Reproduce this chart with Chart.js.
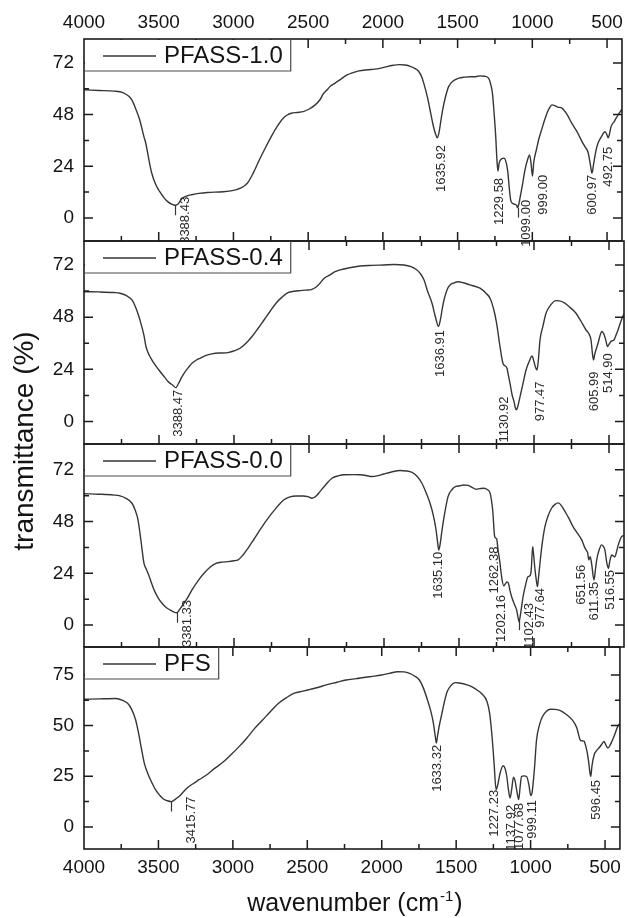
<!DOCTYPE html>
<html><head><meta charset="utf-8">
<script src="https://cdn.jsdelivr.net/npm/chart.js@4.4.0/dist/chart.umd.min.js"></script>
<style>
html,body{margin:0;padding:0;background:#fff;}
#wrap{position:relative;width:628px;height:918px;overflow:hidden;background:#fff;}
#wrap canvas{position:absolute;left:0;top:0;}
</style></head><body>
<div id="wrap">
<canvas id="c0" width="628" height="918"></canvas>
<canvas id="c1" width="628" height="918"></canvas>
<canvas id="c2" width="628" height="918"></canvas>
<canvas id="c3" width="628" height="918"></canvas>
</div>
<script>
// ---------- data ----------
const xTicks = [4000, 3500, 3000, 2500, 2000, 1500, 1000, 500];
const yTicksA = [0, 24, 48, 72];
const yTicksB = [0, 25, 50, 75];
const names = ['PFASS-1.0', 'PFASS-0.4', 'PFASS-0.0', 'PFS'];
const yTitle = 'transmittance (%)';
const xTitleMain = 'wavenumber (cm';
const xTitleSup = '-1';
const xTitleEnd = ')';

// spectra: [wavenumber, transmittance]
const spec1 = [[4000,59.5],[3900,59.2],[3800,58.9],[3740,58.2],[3700,56.5],[3680,54.8],[3650,50],[3627,45.5],[3600,38],[3587,34.8],[3560,25],[3547,20.9],[3520,15.5],[3493,12.2],[3460,9],[3440,7.6],[3410,6.3],[3388,5.9],[3370,6.5],[3345,9],[3333,9.6],[3300,10.5],[3280,10.8],[3230,11.4],[3173,11.8],[3067,12.2],[3000,12.8],[2973,13.3],[2940,14.3],[2907,16.1],[2870,20.5],[2827,26.9],[2787,32.5],[2747,37.8],[2707,42.5],[2667,46.3],[2640,47.8],[2613,48.6],[2573,49],[2533,49.4],[2493,50.6],[2453,52.5],[2420,55],[2400,57.5],[2373,59.5],[2350,61.3],[2320,62.6],[2280,64.5],[2240,66.4],[2200,67.5],[2160,68.3],[2100,68.8],[2053,69.1],[2000,69.8],[1973,70.3],[1930,70.9],[1893,71.2],[1850,71],[1813,70.3],[1787,69.5],[1760,68],[1740,65.5],[1720,61],[1700,55.5],[1680,48.7],[1660,42],[1645,38.5],[1636,37.2],[1625,39.5],[1610,46],[1600,50.2],[1580,56.5],[1560,61],[1530,63.6],[1493,64.9],[1450,65.4],[1413,65.6],[1380,65.6],[1350,66],[1320,65.8],[1293,64.9],[1280,62.5],[1267,58],[1255,48],[1245,38],[1236,26],[1230,21.8],[1222,25.5],[1205,27.5],[1190,27.8],[1178,26.5],[1165,22],[1153,13],[1145,8.4],[1133,6.8],[1120,6.4],[1105,5.8],[1099,4.8],[1090,6.5],[1078,11],[1067,15],[1049,22.3],[1030,27.5],[1018,29.3],[1008,25],[999,19.5],[990,26],[973,31.6],[955,37],[938,40.9],[920,45],[900,49],[880,51.7],[869,52.5],[850,52.2],[830,51.5],[802,51],[770,48.3],[736,44],[700,40],[680,37.2],[660,34.5],[647,33],[627,30.5],[612,25],[601,20.8],[590,25],[573,31.6],[560,34.8],[540,37.5],[513,40],[500,38.5],[493,37.2],[485,38.5],[473,42.4],[450,45],[427,47.8],[400,50.5]];

const spec2 = [[4000,59.7],[3900,59.6],[3800,59.3],[3760,59],[3720,58],[3680,55.9],[3650,51.5],[3627,46.7],[3600,39.5],[3587,34.5],[3565,30.5],[3547,28.3],[3520,25.5],[3493,23],[3460,20.2],[3440,18.4],[3410,16.8],[3388,15.6],[3370,17.5],[3350,20.2],[3333,22.2],[3300,25.2],[3280,26.8],[3250,28.3],[3227,29.1],[3190,30.3],[3147,31.1],[3100,31.5],[3040,31.7],[3000,32.5],[2960,33.7],[2920,36],[2880,39.1],[2840,42.8],[2800,46.7],[2760,50.6],[2720,54.4],[2680,57.2],[2640,59.3],[2600,59.9],[2560,60.2],[2520,60.4],[2480,60.8],[2450,62],[2427,63.6],[2400,65.8],[2360,67.4],[2330,68.8],[2293,69.7],[2230,70.7],[2160,71.5],[2080,71.8],[2000,72],[1930,72.2],[1867,72],[1820,71.2],[1787,70],[1760,68.2],[1733,65.1],[1710,60],[1680,54.4],[1655,47.5],[1637,43.7],[1625,46.5],[1610,52.5],[1600,55.9],[1580,60.5],[1560,62.8],[1530,63.8],[1507,64.3],[1470,63.8],[1427,62.8],[1400,62.3],[1360,61.3],[1320,59],[1293,56.7],[1270,52],[1250,45.5],[1230,36],[1207,26.8],[1190,25.5],[1180,24.5],[1170,21],[1160,17.6],[1145,12],[1133,9.2],[1125,6.5],[1118,5.4],[1110,6.5],[1093,11.5],[1075,17],[1053,23.7],[1030,28],[1013,30.2],[1000,27.5],[990,25],[980,23.7],[970,29],[960,37.5],[940,44],[920,49.8],[890,53.5],[853,55.6],[830,55.5],[800,54.7],[760,52.5],[720,49.8],[690,46.5],[653,42.1],[635,40.5],[620,37.5],[610,31],[603,28.3],[595,31],[573,36],[560,39.5],[547,41.4],[530,39.5],[520,37],[510,34.5],[500,35.5],[485,37],[467,37.5],[455,39.5],[440,42.1],[413,47.5],[400,49.5]];

const spec3 = [[4000,60.9],[3900,60.7],[3800,60.3],[3760,59.9],[3720,58.8],[3680,56.5],[3660,53.5],[3640,48.8],[3620,39],[3600,28.6],[3585,26],[3573,24],[3550,19.5],[3533,16.3],[3505,12.5],[3480,10.1],[3450,8],[3427,7],[3400,6],[3381,5.7],[3360,7.5],[3333,10.1],[3305,13.2],[3280,16.3],[3240,20.5],[3200,24],[3160,26.8],[3120,28.6],[3080,29.2],[3040,29.4],[3000,29.8],[2973,30.2],[2940,32.5],[2907,35.6],[2867,39.8],[2827,44.1],[2787,48.2],[2747,51.9],[2707,55.3],[2667,58.1],[2627,59.5],[2587,59.9],[2540,59.9],[2507,59.6],[2480,58.8],[2450,60],[2427,61.9],[2390,65],[2347,68.1],[2300,69.3],[2267,69.7],[2200,69.8],[2160,69.7],[2120,69.4],[2080,68.9],[2040,69.3],[2000,70.1],[1950,71],[1893,71.7],[1850,71.5],[1813,70.8],[1780,69],[1747,65.8],[1720,61.5],[1693,56.5],[1670,50.5],[1653,44.1],[1642,38],[1635,34.8],[1627,37],[1613,44.1],[1595,52],[1573,59.6],[1545,63],[1520,64.3],[1493,64.6],[1470,65],[1440,64.8],[1410,63.8],[1387,63],[1360,63.3],[1333,63.5],[1310,62.8],[1293,61.3],[1275,53],[1262,41],[1249,40],[1240,35],[1227,28.8],[1215,22],[1202,18.2],[1190,19.2],[1180,20],[1171,19.5],[1160,16],[1149,13.1],[1130,9.5],[1116,7],[1105,3],[1100,1.5],[1092,4],[1073,13.1],[1055,19],[1040,22.4],[1025,23],[1018,26],[1009,36.4],[1003,33],[993,25.5],[985,21],[977,17.8],[970,22],[960,28.8],[945,38],[927,45.7],[905,50.8],[882,54.3],[860,56],[838,56.7],[815,55.2],[793,52.6],[770,49.8],[740,45.7],[710,42.5],[682,39.5],[665,36.5],[650,34.5],[642,33.5],[635,30.2],[625,31.7],[615,28],[600,20.9],[590,26],[582,30.2],[565,35],[549,37.2],[538,36.5],[527,34.8],[515,29],[504,26.3],[495,29.5],[482,32.5],[470,32],[460,31.7],[448,34.5],[438,37.2],[416,41],[400,41.5]];

const spec4 = [[4000,63],[3900,63.2],[3787,63.4],[3740,62.5],[3707,61],[3680,58],[3653,52.8],[3630,45],[3613,38.1],[3595,31.5],[3573,26.6],[3545,22],[3520,18.4],[3490,15.5],[3467,13.8],[3440,12.9],[3415,12.5],[3395,13.2],[3375,14.3],[3360,15.1],[3330,17.5],[3307,19.2],[3270,21.2],[3227,23.3],[3170,26],[3120,29],[3065,32],[3013,35.6],[2960,39.5],[2907,43.8],[2855,48.5],[2800,52.8],[2747,57],[2693,61],[2640,63.8],[2587,66],[2530,67],[2480,67.9],[2430,68.8],[2373,70.1],[2300,71.4],[2240,72.5],[2170,73.2],[2107,73.9],[2050,74.4],[2000,75],[1950,75.8],[1893,76.6],[1850,76.5],[1813,75.8],[1780,74.5],[1747,72.5],[1720,68.5],[1693,62.7],[1670,57],[1653,51.2],[1640,44.5],[1633,41.4],[1625,45],[1612,50.5],[1600,54.5],[1580,61.5],[1560,66.8],[1535,69.8],[1507,71.2],[1480,71],[1427,70.1],[1390,69],[1360,67.6],[1325,65.5],[1293,61.9],[1275,56],[1259,44.6],[1245,31],[1232,18.4],[1220,21],[1205,26.5],[1185,30.2],[1172,29],[1160,25],[1150,19],[1138,14.3],[1128,18],[1115,24.5],[1105,23],[1093,18],[1080,13.5],[1070,20],[1061,24.9],[1045,25.2],[1027,24.9],[1012,21],[999,15.5],[990,17],[975,28],[960,43],[940,50.5],[920,54.5],[895,57],[867,58.1],[835,58],[800,57.4],[760,55.5],[720,52.8],[690,49],[667,43],[655,42.5],[640,42.2],[630,40],[619,36.4],[610,32],[600,26],[596,24.9],[588,30],[573,35.6],[553,38],[533,39.7],[520,41],[507,42.2],[495,40.5],[480,38.9],[465,40.5],[440,44.6],[413,49.9],[400,51]];

// peak annotations: text, label centre (cm-1), label top (%), short marker line
const peaks1 = ['3388.43','1635.92','1229.58','1099.00','999.00','600.97','492.75'];
const peakLX1 = [3320, 1607, 1222, 1038, 927, 598, 489];
const peakLT1 = [9.8, 33.9, 18.6, 8.4, 20, 20, 33];
const peakMark1 = [true, false, false, true, false, false, false];

const peaks2 = ['3388.47','1636.91','1130.92','977.47','605.99','514.90'];
const peakLX2 = [3373, 1627, 1195, 960, 595, 501];
const peakLT2 = [14.6, 42.1, 11.5, 18.4, 23, 31.4];
const peakMark2 = [false, false, false, false, false, false];

const peaks3 = ['3381.33','1635.10','1262.38','1202.16','1102.43','977.64','651.56','611.35','516.55'];
const peakLX3 = [3313, 1640, 1267, 1215, 1033, 960, 682, 600, 493];
const peakLT3 = [11.6, 34, 36.4, 13.9, 10.2, 17.2, 27.9, 20.1, 25.5];
const peakMark3 = [true, false, false, false, true, false, false, false, false];

const peaks4 = ['3415.77','1633.32','1227.23','1137.92','1077.68','999.11','596.45'];
const peakLX4 = [3280, 1627, 1240, 1127, 1073, 987, 560];
const peakLT4 = [15, 40.5, 18.3, 10.9, 11.8, 13.3, 23.2];
const peakMark4 = [true, false, false, false, false, false, false];

const yRange1 = [-10.7, 83.1];
const yRange2 = [-10.3, 83.0];
const yRange3 = [-10.2, 84.0];
const yRange4 = [-10.9, 88.8];

// ---------- assembly ----------
const panels = [
  {name: names[0], spec: spec1, yTicks: yTicksA, yr: yRange1, pt: peaks1, lx: peakLX1, lt: peakLT1, mk: peakMark1},
  {name: names[1], spec: spec2, yTicks: yTicksA, yr: yRange2, pt: peaks2, lx: peakLX2, lt: peakLT2, mk: peakMark2},
  {name: names[2], spec: spec3, yTicks: yTicksA, yr: yRange3, pt: peaks3, lx: peakLX3, lt: peakLT3, mk: peakMark3},
  {name: names[3], spec: spec4, yTicks: yTicksB, yr: yRange4, pt: peaks4, lx: peakLX4, lt: peakLT4, mk: peakMark4}
];

const FONT = '"Liberation Sans", Arial, "DejaVu Sans", sans-serif';
const TXT = '#141414';
const LINE = '#363636';
const FRAME = '#1c1c1c';
const TOPS = [39, 241, 444, 647];
const BOTS = [241, 444, 647, 849];
const H = 918;

function curveAt(spec, v) {
  for (let i = 0; i < spec.length - 1; i++) {
    const a = spec[i], b = spec[i + 1];
    if (v <= a[0] && v >= b[0]) {
      const t = (a[0] - v) / (a[0] - b[0]);
      return a[1] + t * (b[1] - a[1]);
    }
  }
  return spec[spec.length - 1][1];
}

const deco = {
  id: 'deco',
  afterDatasetsDraw(chart, args, opts) {
    const k = opts.k;
    const P = panels[k];
    const ctx = chart.ctx;
    const a = chart.chartArea;
    const xs = chart.scales.x, ys = chart.scales.y;
    ctx.save();

    // peak markers and labels
    ctx.strokeStyle = LINE; ctx.lineWidth = 1.2;
    P.pt.forEach((txt, i) => {
      if (P.mk[i]) {
        const v = parseFloat(txt);
        const px = Math.round(xs.getPixelForValue(v)) + 0.5;
        const py = ys.getPixelForValue(curveAt(P.spec, v));
        ctx.beginPath(); ctx.moveTo(px, py); ctx.lineTo(px, py + 10); ctx.stroke();
      }
    });
    ctx.fillStyle = '#2a2a2a';
    ctx.font = '13px ' + FONT;
    ctx.textAlign = 'right'; ctx.textBaseline = 'middle';
    P.pt.forEach((txt, i) => {
      const px = xs.getPixelForValue(P.lx[i]);
      const py = ys.getPixelForValue(P.lt[i]);
      ctx.save(); ctx.translate(px, py); ctx.rotate(-Math.PI / 2);
      ctx.fillText(txt, 0, 0); ctx.restore();
    });

    // frame
    ctx.strokeStyle = FRAME; ctx.lineWidth = 1.6;
    ctx.strokeRect(a.left, a.top, a.right - a.left, a.bottom - a.top);

    // inward ticks
    ctx.lineWidth = 1.5;
    const MAJ = 9, MIN = 5;
    const xMin = [];
    for (let i = 0; i < xTicks.length - 1; i++) xMin.push((xTicks[i] + xTicks[i + 1]) / 2);
    ctx.beginPath();
    const tickX = (v, len) => {
      const p = xs.getPixelForValue(v);
      if (p < a.left + 1 || p > a.right - 1) return;
      ctx.moveTo(p, a.top); ctx.lineTo(p, a.top + len);
      ctx.moveTo(p, a.bottom); ctx.lineTo(p, a.bottom - len);
    };
    xTicks.forEach(v => tickX(v, MAJ));
    xMin.forEach(v => tickX(v, MIN));
    const step = P.yTicks[1] - P.yTicks[0];
    const yMin = [];
    for (let v = P.yTicks[0] - step / 2; v <= P.yr[1]; v += step) yMin.push(v);
    const tickY = (v, len) => {
      const p = ys.getPixelForValue(v);
      if (p < a.top + 3 || p > a.bottom - 3) return;
      ctx.moveTo(a.left, p); ctx.lineTo(a.left + len, p);
      ctx.moveTo(a.right, p); ctx.lineTo(a.right - len, p);
    };
    P.yTicks.forEach(v => tickY(v, MAJ));
    yMin.forEach(v => tickY(v, MIN));
    ctx.stroke();

    // legend box
    ctx.font = '24px ' + FONT;
    const tw = ctx.measureText(P.name).width;
    const bx = a.left, by = a.top, bh = 32, bw = 80 + tw + 8;
    ctx.fillStyle = '#fff';
    ctx.fillRect(bx + 1, by + 1, bw - 1, bh - 1);
    ctx.strokeStyle = '#4a4a4a'; ctx.lineWidth = 1.2;
    ctx.beginPath();
    ctx.moveTo(bx + bw, by); ctx.lineTo(bx + bw, by + bh); ctx.lineTo(bx, by + bh);
    ctx.stroke();
    ctx.strokeStyle = LINE; ctx.lineWidth = 1.3;
    ctx.beginPath(); ctx.moveTo(bx + 19, by + 17); ctx.lineTo(bx + 72, by + 17); ctx.stroke();
    ctx.fillStyle = TXT; ctx.textAlign = 'left'; ctx.textBaseline = 'middle';
    ctx.fillText(P.name, bx + 80, by + 17);

    // shared y-axis title
    if (k === 0) {
      ctx.font = '28px ' + FONT;
      ctx.fillStyle = TXT; ctx.textAlign = 'center'; ctx.textBaseline = 'middle';
      ctx.save(); ctx.translate(25, 441); ctx.rotate(-Math.PI / 2);
      ctx.fillText(yTitle, 0, 0); ctx.restore();
    }
    // x-axis title with superscript
    if (k === 3) {
      const big = '25px ' + FONT, small = '15px ' + FONT;
      ctx.fillStyle = TXT; ctx.textAlign = 'left'; ctx.textBaseline = 'alphabetic';
      ctx.font = big; const w1 = ctx.measureText(xTitleMain).width, w3 = ctx.measureText(xTitleEnd).width;
      ctx.font = small; const w2 = ctx.measureText(xTitleSup).width;
      const total = w1 + w2 + w3 + 2;
      let x0 = (a.left + a.right) / 2 + 3 - total / 2;
      const base = 911;
      ctx.font = big; ctx.fillText(xTitleMain, x0, base);
      ctx.font = small; ctx.fillText(xTitleSup, x0 + w1 + 1, base - 10);
      ctx.font = big; ctx.fillText(xTitleEnd, x0 + w1 + w2 + 2, base);
    }
    ctx.restore();
  }
};

function makeChart(k) {
  const P = panels[k];
  const isTop = k === 0, isBottom = k === 3;
  return new Chart(document.getElementById('c' + k), {
    type: 'scatter',
    data: {
      datasets: [{
        label: P.name,
        data: P.spec.map(([x, y]) => ({x, y})),
        showLine: true, fill: false,
        borderColor: LINE, borderWidth: 1.4,
        pointRadius: 0, pointHoverRadius: 0,
        cubicInterpolationMode: 'monotone'
      }]
    },
    options: {
      responsive: false, animation: false, devicePixelRatio: 1,
      events: [],
      layout: {padding: {left: 0, right: 4, top: isTop ? 0 : TOPS[k], bottom: isBottom ? 0 : H - BOTS[k]}},
      plugins: {legend: {display: false}, tooltip: {enabled: false}, deco: {k}},
      scales: {
        x: {
          type: 'linear', min: 400, max: 4000, reverse: true,
          position: isBottom ? 'bottom' : 'top',
          display: isTop || isBottom,
          grid: {display: false, drawTicks: false},
          border: {display: false},
          ticks: {font: {family: FONT, size: 19}, color: TXT, padding: isTop ? 5 : 7,
                  autoSkip: false, maxRotation: 0, minRotation: 0, callback: v => String(v)},
          afterBuildTicks: s => { s.ticks = xTicks.map(v => ({value: v})); },
          afterFit: s => { s.height = isTop ? 39 : (isBottom ? 69 : 0); }
        },
        y: {
          min: P.yr[0], max: P.yr[1],
          grid: {display: false, drawTicks: false},
          border: {display: false},
          ticks: {font: {family: FONT, size: 19}, color: TXT, padding: 10, callback: v => String(v)},
          afterBuildTicks: s => { s.ticks = P.yTicks.map(v => ({value: v})); },
          afterFit: s => { s.width = 84; }
        }
      }
    },
    plugins: [deco]
  });
}
[0, 1, 2, 3].forEach(makeChart);
</script>
</body></html>
